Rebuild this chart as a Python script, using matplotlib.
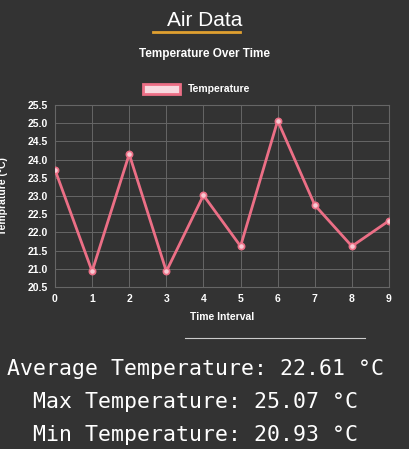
import matplotlib.pyplot as plt
import numpy as np

intervals = list(range(10))
temps = [23.72, 20.93, 24.15, 20.93, 23.02, 21.62, 25.07, 22.75, 21.62, 22.32]
y_ticks = [20.5, 21.0, 21.5, 22.0, 22.5, 23.0, 23.5, 24.0, 24.5, 25.0, 25.5]
stats = ["Average Temperature: 22.61 °C", "Max Temperature: 25.07 °C", "Min Temperature: 20.93 °C"]

plt.rcParams['font.family'] = ['Liberation Sans', 'DejaVu Sans']
W, H = 410, 449
bg = '#333333'
fig = plt.figure(figsize=(W/100, H/100), dpi=100, facecolor=bg)
ax = fig.add_axes([55/W, 1-287/H, (389-55)/W, (287-105)/H], facecolor=bg)

ax.plot(intervals, temps, color='#ec6f86', lw=2.0, marker='o', ms=4.5,
        mfc='#f7c9d2', mec='#ec6f86', mew=1.2, label='Temperature', zorder=3)
ax.set_xlim(0, 9)
ax.set_ylim(20.5, 25.5)
ax.set_xticks(intervals)
ax.set_yticks(y_ticks)
ax.set_yticklabels([f'{v:.1f}' for v in y_ticks])
ax.grid(color='#666666', lw=0.7)
for s in ax.spines.values():
    s.set_color('#666666')
ax.tick_params(colors='white', length=0, labelsize=7.5, pad=5)
for lab in ax.get_xticklabels() + ax.get_yticklabels():
    lab.set_fontweight('bold')
ax.set_xlabel('Time Interval', color='white', fontsize=7.5, fontweight='bold', labelpad=6)
ax.set_ylabel('Temprature (°C)', color='white', fontsize=7.5, fontweight='bold')
ax.yaxis.set_label_coords(-47/(389-55), 0.5)

leg = fig.legend(handles=[plt.Rectangle((0, 0), 1, 1, fc='#f7d9df', ec='#ec6f86', lw=2)],
                 labels=['Temperature'], loc='center', bbox_to_anchor=(0.48, 1-89/H),
                 frameon=False, fontsize=7.5, handlelength=3.5, handleheight=1.2)
for t in leg.get_texts():
    t.set_color('white')
    t.set_fontweight('bold')

fig.text(0.5, 1-20/H, 'Air Data', color='white', fontsize=15, ha='center', va='center')
fig.add_artist(plt.Line2D([153/W, 240/W], [1-32/H, 1-32/H], color='#e0a030', lw=2))
fig.text(0.5, 1-54/H, 'Temperature Over Time', color='white', fontsize=8.5,
         fontweight='bold', ha='center', va='center')
fig.add_artist(plt.Line2D([185/W, 365/W], [1-338/H, 1-338/H], color='#cccccc', lw=0.8))

for i, s in enumerate(stats):
    fig.text(0.478, 1-(369+33*i)/H, s, color='white', fontsize=15.5,
             family='DejaVu Sans Mono', ha='center', va='center')

fig.savefig('out.png', dpi=100, facecolor=bg)
